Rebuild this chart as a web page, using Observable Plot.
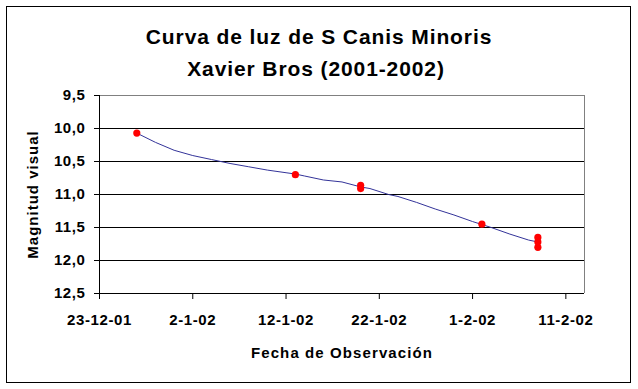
<!DOCTYPE html>
<html>
<head>
<meta charset="utf-8">
<script src="https://cdn.jsdelivr.net/npm/d3@7"></script>
<script src="https://cdn.jsdelivr.net/npm/@observablehq/plot@0.6"></script>
<style>
  html, body { margin: 0; padding: 0; background: #fff; }
  #wrap { position: relative; width: 638px; height: 389px; overflow: hidden; }
  #wrap svg { position: absolute; left: 0; top: 0; }
  #outer { position: absolute; left: 6px; top: 6px; width: 623px; height: 375px; border: 1px solid #000; pointer-events: none; }
</style>
</head>
<body>
<div id="wrap"><div id="outer"></div></div>
<script>
// Observations (visual magnitude)
const obsDates = ["2001-12-27", "2002-01-13", "2002-01-20", "2002-01-20", "2002-02-02", "2002-02-08", "2002-02-08", "2002-02-08"];
const obsMag   = [10.07, 10.70, 10.86, 10.91, 11.45, 11.65, 11.72, 11.80];

// Smoothed light curve (trend line)
const trendDates = ["2001-12-27", "2001-12-29", "2001-12-31", "2002-01-02", "2002-01-04", "2002-01-06", "2002-01-08",
                    "2002-01-10", "2002-01-12", "2002-01-13", "2002-01-14", "2002-01-16", "2002-01-18", "2002-01-20",
                    "2002-01-21", "2002-01-23", "2002-01-24", "2002-01-26", "2002-01-28", "2002-01-30", "2002-02-01",
                    "2002-02-02", "2002-02-03", "2002-02-05", "2002-02-07", "2002-02-08"];
const trendMag   = [10.07, 10.21, 10.33, 10.41, 10.47, 10.53, 10.58,
                    10.63, 10.67, 10.69, 10.72, 10.78, 10.81, 10.885,
                    10.91, 11.00, 11.03, 11.12, 11.22, 11.31, 11.41,
                    11.455, 11.50, 11.60, 11.69, 11.72];

// Axes
const xDomain    = ["2001-12-23", "2002-02-13"];
const xTickDates = ["2001-12-23", "2002-01-02", "2002-01-12", "2002-01-22", "2002-02-01", "2002-02-11"];
const yDomain    = [9.5, 12.5];
const yTicks     = [9.5, 10.0, 10.5, 11.0, 11.5, 12.0, 12.5];
const gridMags   = [10.0, 10.5, 11.0, 11.5, 12.0];

const titleLines = ["Curva de luz de S Canis Minoris", "Xavier Bros (2001-2002)"];
const xTitle = "Fecha de Observación";
const yTitle = "Magnitud visual";

const parse = s => new Date(s + "T00:00:00Z");
const obs = obsDates.map((d, i) => ({date: parse(d), mag: obsMag[i]}));
const trend = trendDates.map((d, i) => ({date: parse(d), mag: trendMag[i]}));
const xTicks = xTickDates.map(parse);
const fmtDate = d => `${d.getUTCDate()}-${d.getUTCMonth() + 1}-${String(d.getUTCFullYear()).slice(2)}`;
const fmtMag = v => v.toFixed(1).replace(".", ",");

const chart = Plot.plot({
  width: 638,
  height: 389,
  marginLeft: 99,
  marginRight: 54,
  marginTop: 95,
  marginBottom: 96,
  style: {fontFamily: "Arial, 'Liberation Sans', sans-serif", fontSize: "15px", fontWeight: "bold", color: "#000", background: "transparent"},
  x: {type: "utc", domain: xDomain.map(parse)},
  y: {domain: yDomain, reverse: true},
  marks: [
    Plot.ruleY(gridMags, {stroke: "#000", strokeWidth: 1}),
    Plot.ruleY([yDomain[0]], {stroke: "#808080", strokeWidth: 1}),
    Plot.ruleX([parse(xDomain[1])], {stroke: "#808080", strokeWidth: 1}),
    Plot.ruleX([parse(xDomain[0])], {stroke: "#000", strokeWidth: 1}),
    Plot.ruleY([yDomain[1]], {stroke: "#000", strokeWidth: 1}),
    Plot.axisY({ticks: yTicks, tickSize: 5, tickPadding: 9, tickFormat: fmtMag, label: null, stroke: "#000", fill: "#000"}),
    Plot.axisX({ticks: xTicks, tickSize: 6, tickPadding: 15, tickFormat: fmtDate, label: null, stroke: "#000", fill: "#000"}),
    Plot.line(trend, {x: "date", y: "mag", stroke: "#333399", strokeWidth: 1}),
    Plot.dot(obs, {x: "date", y: "mag", r: 3.6, fill: "#ff0000", stroke: "none"}),
    Plot.text([titleLines[0]], {frameAnchor: "top", textAnchor: "middle", dx: -23, dy: -51.5, lineAnchor: "bottom", fontSize: 21, fontWeight: "bold", fill: "#000"}),
    Plot.text([titleLines[1]], {frameAnchor: "top", textAnchor: "middle", dx: -26, dy: -20, lineAnchor: "bottom", fontSize: 21, fontWeight: "bold", fill: "#000"}),
    Plot.text([xTitle], {frameAnchor: "bottom", textAnchor: "middle", dy: 64.7, lineAnchor: "bottom", fontSize: 15, fontWeight: "bold", fill: "#000"}),
    Plot.text([yTitle], {frameAnchor: "left", textAnchor: "middle", dx: -66, rotate: -90, lineAnchor: "middle", fontSize: 15, fontWeight: "bold", fill: "#000"})
  ]
});

// letter spacing to imitate the wide bitmap rendering of the original
d3.select(chart).selectAll("text").each(function () {
  const t = this.textContent;
  let ls = 0.6;
  if (titleLines.includes(t)) ls = 0.9;
  else if (t === xTitle) ls = 1.1;
  else if (t === yTitle) ls = 1.0;
  this.style.letterSpacing = ls + "px";
});

document.getElementById("wrap").insertBefore(chart, document.getElementById("outer"));
</script>
</body>
</html>
